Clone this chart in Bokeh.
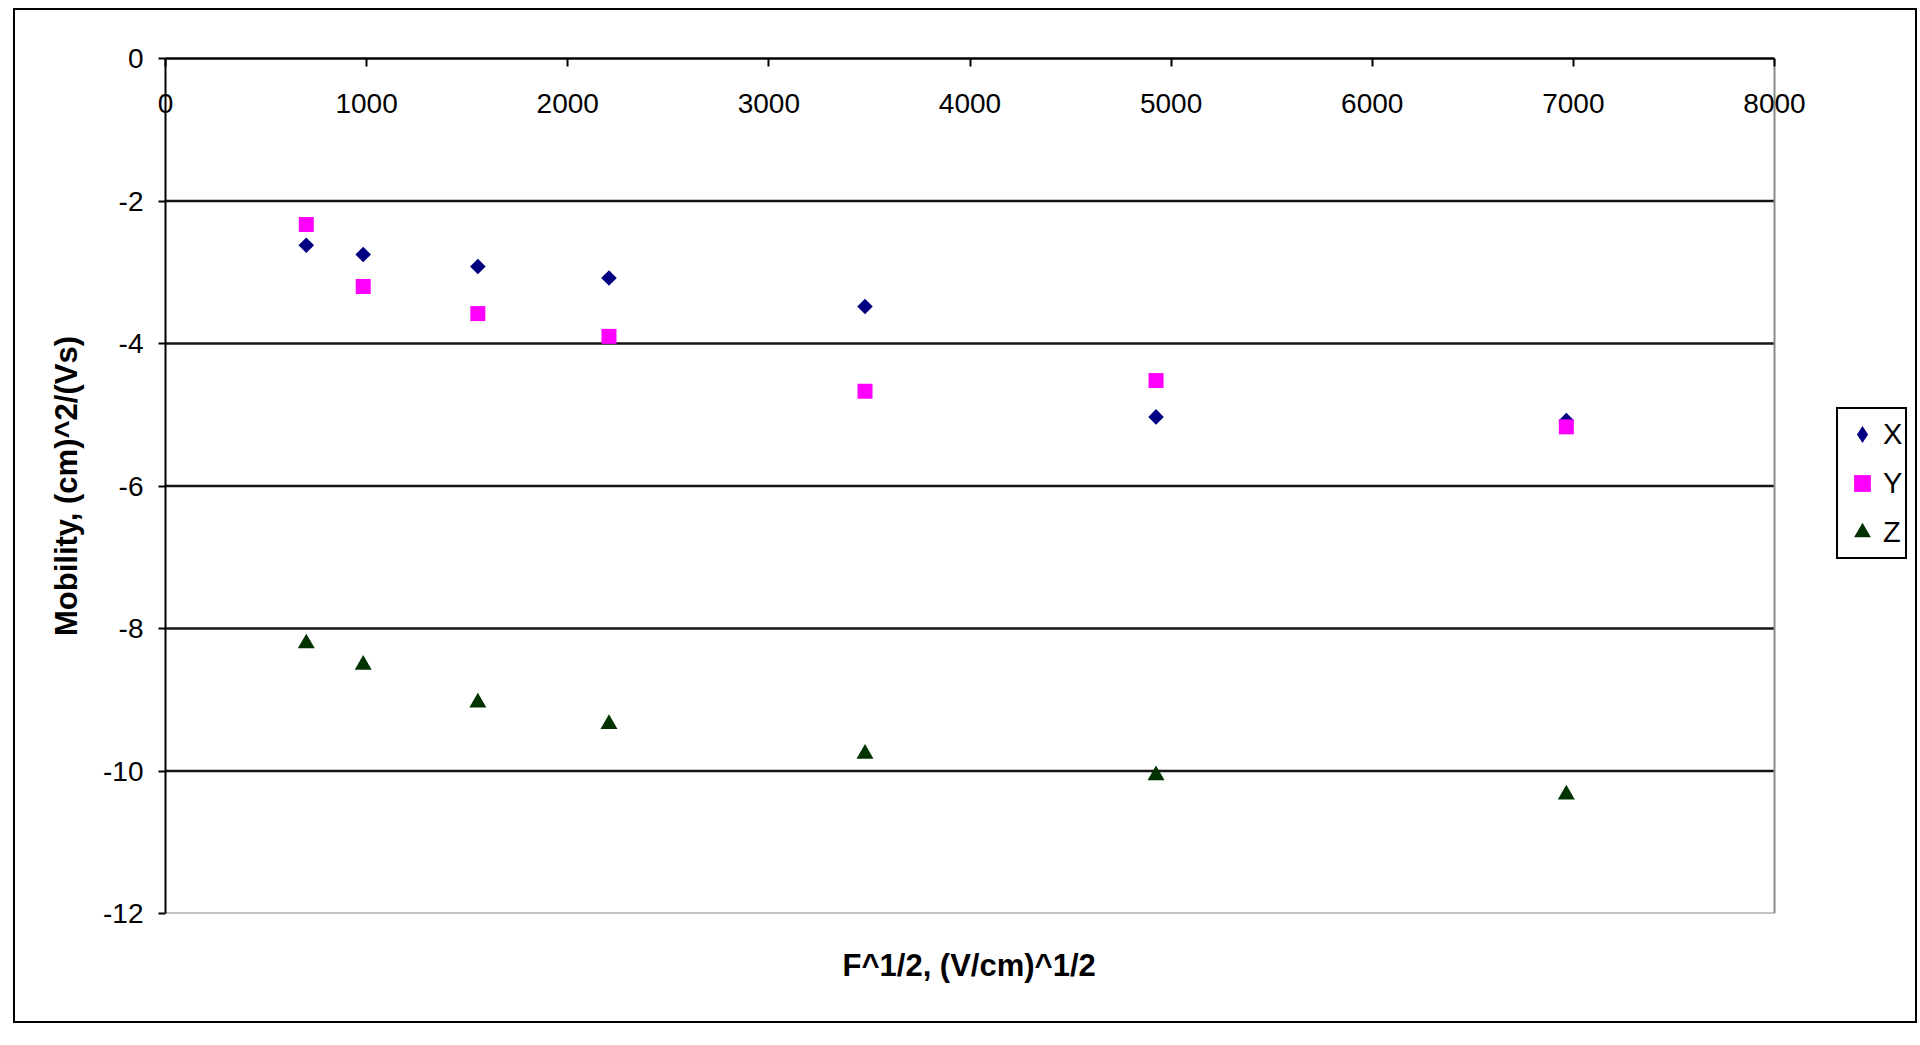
import math
from bokeh.plotting import figure
from bokeh.models import FixedTicker, Range1d, Legend, LegendItem, Title
from bokeh.embed import file_html
from bokeh.resources import INLINE

# ---- data ----
field_sqrt = [700, 983, 1553, 2205, 3478, 4925, 6965]
mobility_x = [-2.62, -2.75, -2.92, -3.08, -3.48, -5.03, -5.08]
mobility_y = [-2.33, -3.20, -3.58, -3.90, -4.67, -4.52, -5.17]
mobility_z = [-8.21, -8.51, -9.04, -9.34, -9.76, -10.06, -10.33]

x_min, x_max = 0, 8000
y_min, y_max = -12, 0
x_ticks = [0, 1000, 2000, 3000, 4000, 5000, 6000, 7000, 8000]
y_ticks = [0, -2, -4, -6, -8, -10, -12]
y_tick_labels = ["0", "-2", "-4", "-6", "-8", "-10", "-12"]
grid_ticks = [-2, -4, -6, -8, -10]

series_names = ["X", "Y", "Z"]
x_title = "F^1/2, (V/cm)^1/2"
y_title = "Mobility, (cm)^2/(Vs)"

FONT = "Liberation Sans"

# the frame also holds the legend area to the right of the plot area
PLOT_W = 1609      # px of the plot area (0..8000)
FRAME_W = 1744
x_end = x_max * FRAME_W / PLOT_W

p = figure(frame_width=FRAME_W, frame_height=855, output_backend="svg",
           toolbar_location=None,
           x_range=Range1d(x_min, x_end), y_range=Range1d(y_min, y_max),
           x_axis_location="above",
           min_border_left=150, min_border_right=6,
           min_border_top=48, min_border_bottom=108)
p.styles = {"border": "2px solid black", "margin-left": "13px", "margin-top": "8px"}
p.background_fill_color = "white"
p.border_fill_color = "white"
p.outline_line_color = None

# top x axis (crosses at y = 0, labels inside the plot area)
ax = p.xaxis[0]
ax.ticker = FixedTicker(ticks=x_ticks)
ax.bounds = (x_min, x_max)
ax.axis_line_color = "black"
ax.axis_line_width = 2.5
ax.major_tick_in = 8
ax.major_tick_out = 0
ax.major_tick_line_color = "black"
ax.major_tick_line_width = 2
ax.minor_tick_line_color = None
ax.major_label_standoff = -54
ax.major_label_text_font = FONT
ax.major_label_text_font_size = "28px"
ax.major_label_text_color = "black"

# y axis
ya = p.yaxis[0]
ya.ticker = FixedTicker(ticks=y_ticks)
ya.major_label_overrides = {t: s for t, s in zip(y_ticks, y_tick_labels)}
ya.axis_line_color = "black"
ya.axis_line_width = 2
ya.major_tick_in = 0
ya.major_tick_out = 7
ya.major_tick_line_color = "black"
ya.major_tick_line_width = 2
ya.minor_tick_line_color = None
ya.major_label_standoff = 15
ya.major_label_text_font = FONT
ya.major_label_text_font_size = "28px"
ya.major_label_text_color = "black"
ya.axis_label = y_title
ya.axis_label_standoff = 16
ya.axis_label_text_font = FONT
ya.axis_label_text_font_size = "31px"
ya.axis_label_text_font_style = "bold"
ya.axis_label_text_color = "black"

# x-axis title, centred under the plot area (0..8000)
xt = Title(text=x_title, align="left", offset=677, vertical_align="middle",
           standoff=66, text_font=FONT, text_font_size="31px",
           text_font_style="bold", text_color="black")
p.add_layout(xt, "below")

# plot-area gridlines and border
p.xgrid.visible = False
p.ygrid.visible = False
p.segment(x0=x_min, x1=x_max, y0=grid_ticks, y1=grid_ticks,
          line_color="#151515", line_width=2.5)
p.segment(x0=x_min, x1=x_max, y0=y_min, y1=y_min, line_color="#8a8a8a", line_width=2)
p.segment(x0=x_max, x1=x_max, y0=y_min, y1=y_max, line_color="#8a8a8a", line_width=2)

# series X: diamond for the legend, drawn under the rotated square marks
rx_leg = p.scatter(field_sqrt, mobility_x, marker="diamond", size=13,
                   fill_color="#000080", line_color=None)
rx = p.scatter(field_sqrt, mobility_x, marker="square", size=11, angle=math.pi / 4,
               fill_color="#000080", line_color=None)
ry = p.scatter(field_sqrt, mobility_y, marker="square", size=15,
               fill_color="#FF00FF", line_color=None)
rz = p.scatter(field_sqrt, mobility_z, marker="triangle", size=17,
               fill_color="#003300", line_color=None)

legend = Legend(items=[LegendItem(label=series_names[0], renderers=[rx_leg]),
                       LegendItem(label=series_names[1], renderers=[ry]),
                       LegendItem(label=series_names[2], renderers=[rz])],
                location=(1671, 354))
legend.border_line_color = "black"
legend.border_line_alpha = 1.0
legend.border_line_width = 2
legend.background_fill_color = "white"
legend.background_fill_alpha = 1
legend.padding = 3
legend.margin = 0
legend.spacing = 5
legend.glyph_width = 42
legend.glyph_height = 44
legend.label_height = 44
legend.label_width = 18
legend.label_standoff = 0
legend.label_text_font = FONT
legend.label_text_font_size = "29px"
legend.label_text_color = "black"
p.add_layout(legend)

open("out.html", "w").write(file_html(p, INLINE))
